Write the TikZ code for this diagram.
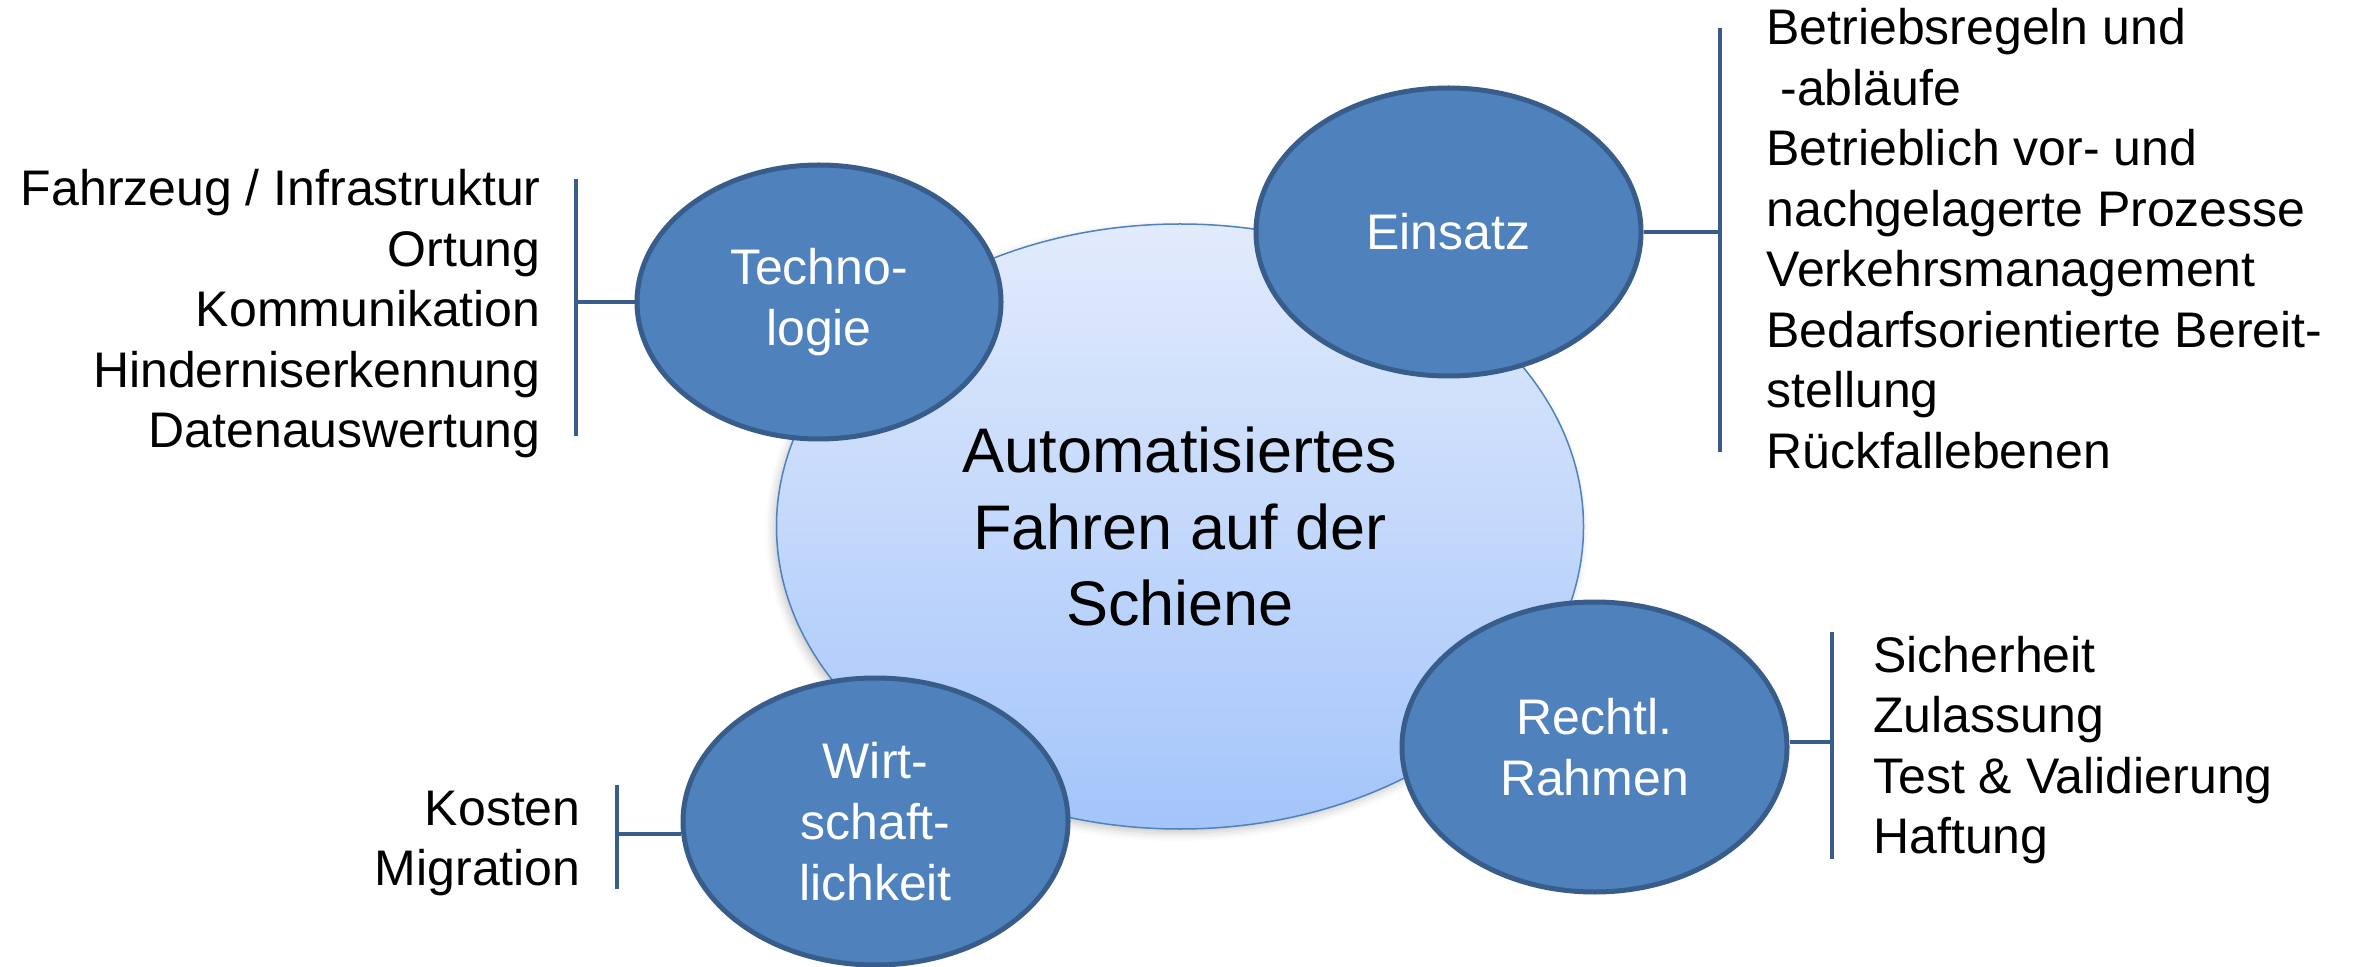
\documentclass[tikz,border=0pt]{standalone}
\usepackage{fontspec}
\setmainfont{Liberation Sans}
\usetikzlibrary{shapes.geometric,backgrounds,shadows.blur}

\definecolor{hubline}{RGB}{79,129,189}
\definecolor{hubtop}{RGB}{226,235,252}
\definecolor{hubbottom}{RGB}{164,197,250}
\definecolor{topicfill}{RGB}{79,129,189}
\definecolor{topicline}{RGB}{56,93,138}

\begin{document}
\begin{tikzpicture}[x=0.5pt,y=-0.5pt,
  hub/.style={ellipse, draw=hubline, line width=0.75pt,
    top color=hubtop, bottom color=hubbottom,
    blur shadow={shadow xshift=-1.5pt, shadow yshift=-2pt, shadow blur radius=4pt, shadow opacity=22},
    minimum width=403.5pt, minimum height=302.5pt, inner sep=0pt,
    align=center, font=\fontsize{31.5}{38.35}\selectfont},
  topic/.style={ellipse, draw=topicline, line width=2.5pt, fill=topicfill,
    text=white, minimum width=192.5pt, minimum height=144.5pt, inner sep=0pt,
    align=center, font=\fontsize{25}{30.5}\selectfont},
  item/.style={inner sep=0pt, font=\fontsize{25}{30}\selectfont},
  itemL/.style={item, anchor=base east},
  itemR/.style={item, anchor=base west},
  bracket/.style={draw=topicline, line width=2.35pt},
]
\useasboundingbox (0,0) rectangle (2360,967);

% central topic
\node[hub] (hub) at (1180,526.5) {Automatisiertes\\Fahren auf der\\Schiene};

% surrounding topics
\node[topic, minimum width=182pt, minimum height=137pt] (tech) at (819,302) {Techno-\\logie};
\node[topic, minimum height=144pt] (einsatz) at (1448.5,232) {Einsatz};
\node[topic, minimum height=145pt] (recht) at (1594.5,747) {Rechtl.\\Rahmen};
\node[topic, minimum height=143.5pt] (wirt) at (875.5,821.5) {Wirt-\\schaft-\\lichkeit};

% bracket end points
\coordinate (tb1) at (576,179);
\coordinate (tb2) at (576,436);
\coordinate (tbm) at (576,302);
\coordinate (eb1) at (1720,28);
\coordinate (eb2) at (1720,452);
\coordinate (ebm) at (1720,232);
\coordinate (rb1) at (1832,632);
\coordinate (rb2) at (1832,859);
\coordinate (rbm) at (1832,742);
\coordinate (wb1) at (617,785);
\coordinate (wb2) at (617,889);
\coordinate (wbm) at (617,834);

\begin{scope}[on background layer]
  \draw[bracket] (tb1) -- (tb2);
  \draw[bracket] (tbm) -- (tech.west);
  \draw[bracket] (eb1) -- (eb2);
  \draw[bracket] (einsatz.east) -- (ebm);
  \draw[bracket] (rb1) -- (rb2);
  \draw[bracket] (rbm) -- (rbm -| recht.east);
  \draw[bracket] (wb1) -- (wb2);
  \draw[bracket] (wbm) -- (wbm -| wirt.west);
\end{scope}

% Technologie items
\node[itemL] (t1) at (541,206) {Fahrzeug / Infrastruktur};
\node[itemL] (t2) at (541,266.5) {Ortung};
\node[itemL] (t3) at (541,327) {Kommunikation};
\node[itemL] (t4) at (541,387.5) {Hinderniserkennung};
\node[itemL] (t5) at (541,448) {Datenauswertung};

% Einsatz items
\node[itemR] (e1) at (1766,45) {Betriebsregeln und};
\node[itemR] (e2) at (1780,105.5) {-abläufe};
\node[itemR] (e3) at (1766,166) {Betrieblich vor- und};
\node[itemR] (e4) at (1766,226.5) {nachgelagerte Prozesse};
\node[itemR] (e5) at (1766,287) {Verkehrsmanagement};
\node[itemR] (e6) at (1766,347.5) {Bedarfsorientierte Bereit-};
\node[itemR] (e7) at (1766,408) {stellung};
\node[itemR] (e8) at (1766,468.5) {Rückfallebenen};

% Rechtlicher Rahmen items
\node[itemR] (r1) at (1873,672) {Sicherheit};
\node[itemR] (r2) at (1873,732.5) {Zulassung};
\node[itemR] (r3) at (1873,793) {Test \& Validierung};
\node[itemR] (r4) at (1873,853.5) {Haftung};

% Wirtschaftlichkeit items
\node[itemL] (w1) at (581,825) {Kosten};
\node[itemL] (w2) at (581,885) {Migration};
\end{tikzpicture}
\end{document}
